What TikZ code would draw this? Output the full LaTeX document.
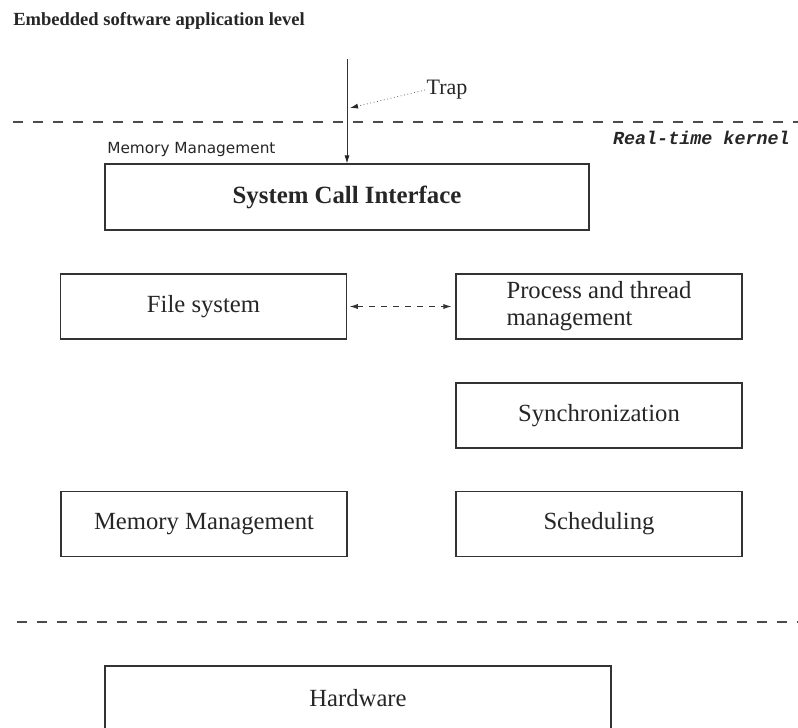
\documentclass[tikz,border=0pt]{standalone}
\usepackage{fontspec}
\setmainfont{Liberation Serif}
\setmonofont{Liberation Mono}
\newfontfamily\labelsans{DejaVu Sans}
\usetikzlibrary{arrows.meta}

\begin{document}
\begin{tikzpicture}[x=0.75pt,y=-0.75pt,
    box/.style={draw=black!80, line width=0.9pt, inner sep=0pt,
        minimum width=214.5pt, minimum height=48.75pt,
        font=\fontsize{18.5}{21}\selectfont, text=black!85},
    sepline/.style={draw=black!70, line width=1.1pt, dash pattern=on 7.5pt off 7.5pt},
    tiparrow/.style={-{Latex[length=6pt,width=3.8pt,color=black!85]}, draw=black!80, line width=0.6pt}]
    \useasboundingbox (0,0) rectangle (798,727);

    % levels
    \node[anchor=base west, inner sep=0pt, font=\fontsize{13.9}{16}\selectfont\bfseries, text=black!85]
        (title) at (13,26) {Embedded software application level};
    \draw[sepline] (13,122) -- (798,122);
    \draw[sepline] (17,622) -- (798,622);
    \node[anchor=east, inner sep=0pt, font=\fontsize{13.8}{16}\selectfont\ttfamily\bfseries\itshape, text=black!85]
        (kernel) at (790,138) {Real-time kernel};
    \node[anchor=west, inner sep=0pt, font=\fontsize{11.5}{14}\selectfont\labelsans, text=black!85]
        (memlabel) at (107,150) {Memory Management};

    % kernel blocks
    \node[box, minimum width=363pt, minimum height=49.5pt, font=\fontsize{18.6}{22}\selectfont\bfseries]
        (sci) at (347,197) {System Call Interface};
    \node[box] (filesys) at (203.5,306.5) {File system};
    \node[box, align=left, font=\fontsize{18.5}{20.3}\selectfont] (procthr) at (599,306.5)
        {Process and thread\\management};
    \node[box] (sync) at (599,415.5) {Synchronization};
    \node[box] (memmgmt) at (204,524) {Memory Management};
    \node[box] (sched) at (599,524) {Scheduling};
    \node[box, minimum width=379.5pt, minimum height=48pt] (hw) at (358,698) {Hardware};

    % trap into the kernel
    \coordinate (callin) at (347,59);
    \coordinate (traptip) at (350,108);
    \node[inner sep=1pt, font=\fontsize{16.5}{19}\selectfont, text=black!85] (trap) at (447,90) {Trap};
    \draw[tiparrow] (callin) -- (sci);
    \draw[tiparrow, dotted, draw=black!60] (trap.west) -- (traptip);
    \draw[{Latex[length=6pt,width=3.8pt]}-{Latex[length=6pt,width=3.8pt]}, draw=black!80,
        line width=0.6pt, dash pattern=on 4.5pt off 4.5pt, shorten <=2pt, shorten >=3pt]
        (filesys) -- (procthr);
\end{tikzpicture}
\end{document}
